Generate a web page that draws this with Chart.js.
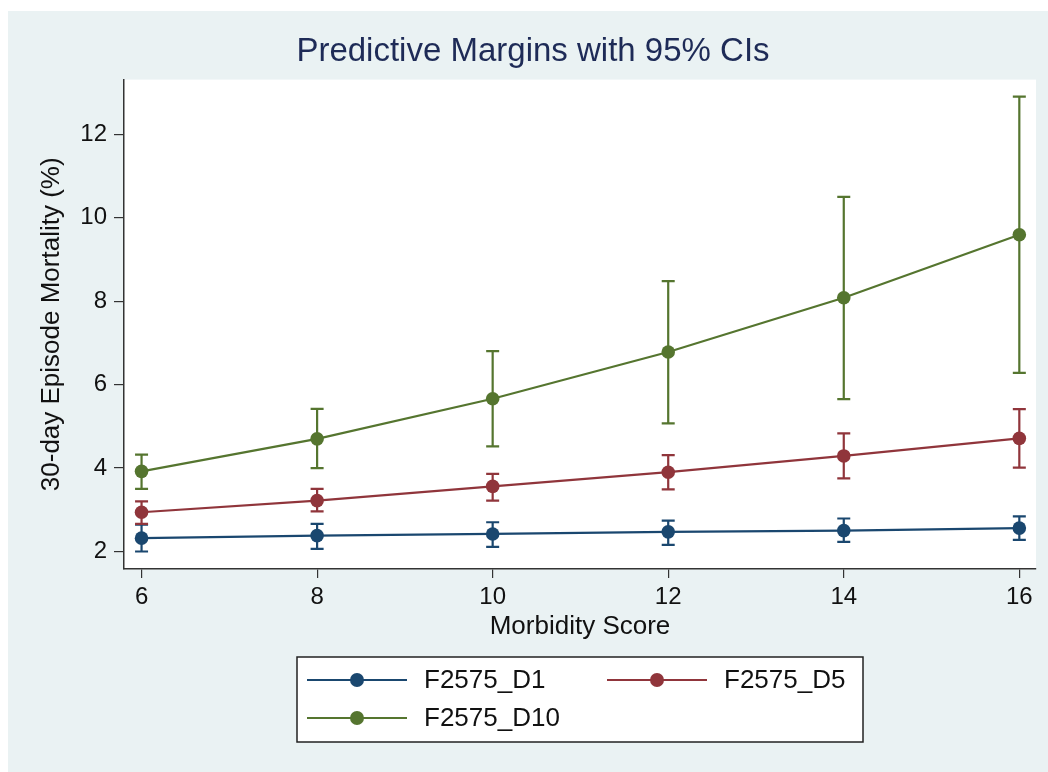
<!DOCTYPE html>
<html>
<head>
<meta charset="utf-8">
<script src="https://cdn.jsdelivr.net/npm/chart.js@4.4.1/dist/chart.umd.min.js"></script>
<style>
  html, body { margin: 0; padding: 0; background: #fff; }
  #wrap { width: 1048px; height: 772px; }
</style>
</head>
<body>
<div id="wrap"><canvas id="chart" width="1048" height="772"></canvas></div>
<script>
// morbidity score on x
const scores = [6, 8, 10, 12, 14, 16];

// predictive margins + 95% CI per decile group
const d1 = [2.32, 2.38, 2.42, 2.47, 2.50, 2.56];
const d1Lo = [2.00, 2.06, 2.11, 2.16, 2.23, 2.28];
const d1Hi = [2.64, 2.66, 2.70, 2.74, 2.79, 2.84];

const d5 = [2.94, 3.22, 3.56, 3.90, 4.29, 4.71];
const d5Lo = [2.66, 2.96, 3.22, 3.49, 3.75, 4.01];
const d5Hi = [3.20, 3.50, 3.86, 4.31, 4.83, 5.41];

const d10 = [3.92, 4.70, 5.66, 6.78, 8.08, 9.59];
const d10Lo = [3.50, 4.00, 4.52, 5.07, 5.65, 6.28];
const d10Hi = [4.32, 5.42, 6.80, 8.48, 10.50, 12.90];

const xTicks = [6, 8, 10, 12, 14, 16];
const yTicks = [2, 4, 6, 8, 10, 12];

const FONT = "'Liberation Sans', Arial, Helvetica, sans-serif";

function series(label, vals, lo, hi, color) {
  return {
    label,
    data: scores.map((x, i) => ({ x, y: vals[i] })),
    ci: scores.map((x, i) => ({ x, lo: lo[i], hi: hi[i] })),
    borderColor: color,
    backgroundColor: color,
    borderWidth: 2.2,
    pointRadius: 6.8,
    pointHoverRadius: 6.8,
    pointBorderWidth: 0,
    tension: 0,
    clip: false
  };
}

const bgPlugin = {
  id: 'bg',
  beforeDraw(chart) {
    const { ctx, chartArea: a } = chart;
    ctx.save();
    ctx.fillStyle = '#ffffff';
    ctx.fillRect(0, 0, chart.width, chart.height);
    ctx.fillStyle = '#eaf2f3';
    ctx.fillRect(8, 11, chart.width - 8, chart.height - 11);
    ctx.fillStyle = '#ffffff';
    ctx.fillRect(a.left, a.top, a.right - a.left, a.bottom - a.top);
    ctx.restore();
  }
};

const errorBars = {
  id: 'errorBars',
  beforeDatasetsDraw(chart) {
    const { ctx, scales: { x, y } } = chart;
    ctx.save();
    chart.data.datasets.forEach(ds => {
      ctx.strokeStyle = ds.borderColor;
      ctx.lineWidth = 2.2;
      ds.ci.forEach(c => {
        const px = x.getPixelForValue(c.x);
        const top = y.getPixelForValue(c.hi);
        const bot = y.getPixelForValue(c.lo);
        ctx.beginPath();
        ctx.moveTo(px, top); ctx.lineTo(px, bot);
        ctx.moveTo(px - 6.5, top); ctx.lineTo(px + 6.5, top);
        ctx.moveTo(px - 6.5, bot); ctx.lineTo(px + 6.5, bot);
        ctx.stroke();
      });
    });
    ctx.restore();
  }
};

// stata-style boxed legend under the plot
const boxLegend = {
  id: 'boxLegend',
  afterDraw(chart) {
    const { ctx } = chart;
    const ds = chart.data.datasets;
    ctx.save();
    ctx.fillStyle = '#ffffff';
    ctx.fillRect(297, 657, 566, 85);
    ctx.strokeStyle = '#222';
    ctx.lineWidth = 1.5;
    ctx.strokeRect(297, 657, 566, 85);
    const slots = [[307, 680], [607, 680], [307, 718]];
    ds.forEach((d, i) => {
      const [sx, sy] = slots[i];
      ctx.strokeStyle = d.borderColor;
      ctx.lineWidth = 2.2;
      ctx.beginPath();
      ctx.moveTo(sx, sy); ctx.lineTo(sx + 100, sy);
      ctx.stroke();
      ctx.fillStyle = d.borderColor;
      ctx.beginPath();
      ctx.arc(sx + 50, sy, 7, 0, Math.PI * 2);
      ctx.fill();
      ctx.fillStyle = '#111';
      ctx.font = '26px ' + FONT;
      ctx.textBaseline = 'middle';
      ctx.textAlign = 'left';
      ctx.fillText(d.label, sx + 117, sy + 1);
    });
    ctx.restore();
  }
};

new Chart(document.getElementById('chart'), {
  type: 'line',
  data: {
    datasets: [
      series('F2575_D1', d1, d1Lo, d1Hi, '#1a476f'),
      series('F2575_D5', d5, d5Lo, d5Hi, '#90353b'),
      series('F2575_D10', d10, d10Lo, d10Hi, '#55752f')
    ]
  },
  options: {
    responsive: false,
    animation: false,
    layout: { padding: { left: 30, right: 12, top: 10, bottom: 128 } },
    plugins: {
      legend: { display: false },
      tooltip: { enabled: false },
      title: {
        display: true,
        text: 'Predictive Margins with 95% CIs',
        color: '#1e2b57',
        font: { family: FONT, size: 33, weight: 'normal' },
        padding: { top: 22, bottom: 8 }
      }
    },
    scales: {
      x: {
        type: 'linear',
        min: 5.80,
        max: 16.19,
        afterBuildTicks: s => { s.ticks = xTicks.map(v => ({ value: v })); },
        afterFit: s => { s.height = 75; },
        grid: { drawOnChartArea: false, drawTicks: true, tickLength: 9, color: '#333', lineWidth: 1.2 },
        border: { display: true, color: '#333', width: 1.5 },
        ticks: { color: '#111', padding: 5, font: { family: FONT, size: 24 } },
        title: {
          display: true,
          text: 'Morbidity Score',
          color: '#111',
          font: { family: FONT, size: 26 },
          padding: { top: 0, bottom: 2 }
        }
      },
      y: {
        min: 1.58,
        max: 13.31,
        afterBuildTicks: s => { s.ticks = yTicks.map(v => ({ value: v })); },
        afterFit: s => { s.width = 124 - 30; },
        grid: { drawOnChartArea: false, drawTicks: true, tickLength: 10, color: '#333', lineWidth: 1.2 },
        border: { display: true, color: '#333', width: 1.5 },
        ticks: { color: '#111', padding: 7, font: { family: FONT, size: 24 } },
        title: {
          display: true,
          text: '30-day Episode Mortality (%)',
          color: '#111',
          font: { family: FONT, size: 26 },
          padding: { top: 6, bottom: 0 }
        }
      }
    }
  },
  plugins: [bgPlugin, errorBars, boxLegend]
});
</script>
</body>
</html>
